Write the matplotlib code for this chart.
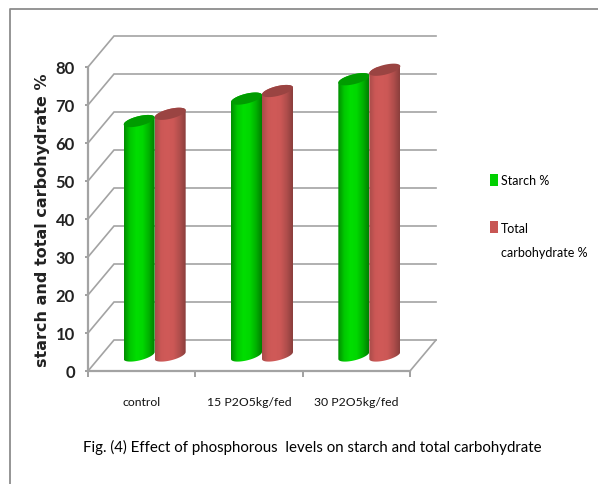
import numpy as np
import matplotlib
matplotlib.use("Agg")
import matplotlib.pyplot as plt
from matplotlib.patches import Polygon, Rectangle
from matplotlib.colors import LinearSegmentedColormap

categories = ["control", "15 P2O5kg/fed", "30 P2O5kg/fed"]
starch = [61.7, 67.6, 72.7]
total_carb = [63.6, 69.6, 75.2]
y_ticks = [0, 10, 20, 30, 40, 50, 60, 70, 80]
series_names = ["Starch %", "Total\ncarbohydrate %"]
y_title = "starch and total carbohydrate %"
caption = "Fig. (4) Effect of phosphorous  levels on starch and total carbohydrate"

W, H = 598, 485
narrow = "Lato"

fig = plt.figure(figsize=(W / 100, H / 100), dpi=100, facecolor="white")
ax = fig.add_axes([88 / W, (H - 372) / H, (410 - 88) / W, (372 - 68) / H])
ax.set_xlim(0, 3)
ax.set_ylim(0, 80)
ax.patch.set_alpha(0)

px_x = 3 / (410 - 88)
px_y = 80 / (372 - 68)
dx, dy = 26 * px_x, 31 * px_y
GRID = "#a3a3a3"

# frame around the picture
fig.add_artist(plt.Line2D([10 / W, 10 / W, 1], [0, 1 - 10 / H, 1 - 10 / H],
                          color="#8c8c8c", lw=1.3))

# 3-D walls
for v in y_ticks:
    ax.plot([0, dx, 3 + dx], [v, v + dy, v + dy], color=GRID, lw=1.2, clip_on=False, zorder=1,
            solid_joinstyle="miter")
ax.plot([3, 3 + dx], [0, dy], color=GRID, lw=1.2, clip_on=False, zorder=1)

cm_green = LinearSegmentedColormap.from_list("g", ["#008c00", "#00c800", "#00de00", "#00d800", "#00b400", "#008000"])
cm_red = LinearSegmentedColormap.from_list("r", ["#a84c4a", "#cc5856", "#d05a58", "#cc5856", "#b04e4c", "#8a3e3c"])
half_w = 15.5 * px_x
tilt = 3.5 * px_y
minor = 5 * px_y
grad = np.linspace(0, 1, 128).reshape(1, -1)


def ell(cx, v, t):
    return np.column_stack([cx + half_w * np.cos(t), v + tilt * np.cos(t) + minor * np.sin(t)])


def cylinder(cx, val, cmap, top_color, z):
    base = dy / 2
    top = val + base
    lower = ell(cx, base, np.linspace(np.pi, 2 * np.pi, 40))
    upper = ell(cx, top, np.linspace(0, np.pi, 40))
    body = Polygon(np.vstack([lower, upper]), closed=True, facecolor="none", edgecolor="none",
                   transform=ax.transData)
    ax.add_patch(body)
    im = ax.imshow(grad, cmap=cmap, extent=[cx - half_w, cx + half_w, base - 3, top + 3],
                   aspect="auto", zorder=z, interpolation="bilinear")
    im.set_clip_path(body)
    cap = Polygon(ell(cx, top, np.linspace(0, 2 * np.pi, 60)), closed=True, facecolor=top_color,
                  edgecolor="none", zorder=z + 0.1, clip_on=False)
    ax.add_patch(cap)


for i in range(len(categories)):
    c = i + 0.5 + dx / 2
    cylinder(c - half_w, starch[i], cm_green, "#009c00", 3)
    cylinder(c + half_w, total_carb[i], cm_red, "#9a4442", 4)
ax.set_xlim(0, 3)
ax.set_ylim(0, 80)

# axes
for s in ("top", "right"):
    ax.spines[s].set_visible(False)
for s in ("left", "bottom"):
    ax.spines[s].set_color(GRID)
    ax.spines[s].set_linewidth(1.6)
ax.set_yticks(y_ticks)
ax.set_yticklabels([str(v) for v in y_ticks], fontfamily=narrow, fontweight="bold", fontsize=12)
ax.tick_params(axis="y", length=2.5, width=1.2, color="#909090", pad=7, labelcolor="#222222")
ax.set_xticks([0, 1, 2, 3])
ax.set_xticklabels([])
ax.set_xticks(np.arange(len(categories)) + 0.5, minor=True)
ax.set_xticklabels(categories, minor=True, fontfamily=narrow, fontsize=8.8, color="#111111")
ax.tick_params(axis="x", which="major", length=4, width=1.2, color="#909090")
ax.tick_params(axis="x", which="minor", length=0, pad=18)

fig.text(43 / W, 1 - 220 / H, y_title, rotation=90, ha="center", va="center",
         fontsize=11.5, fontweight="bold", fontfamily="DejaVu Sans", color="#222222")
fig.text(312 / W, 1 - 447 / H, caption, ha="center", va="center", fontfamily=narrow,
         fontsize=10.8, color="#000000")

# legend
colors = ["#00d000", "#c85654"]
fig.add_artist(Rectangle((490 / W, 1 - 187 / H), 7.5 / W, 12 / H, transform=fig.transFigure,
                         facecolor=colors[0], edgecolor="none"))
fig.add_artist(Rectangle((490 / W, 1 - 234 / H), 7.5 / W, 12 / H, transform=fig.transFigure,
                         facecolor=colors[1], edgecolor="none"))
fig.text(501 / W, 1 - 181 / H, series_names[0], ha="left", va="center", fontfamily=narrow,
         fontsize=9, color="#000000")
fig.text(501 / W, 1 - 241 / H, series_names[1], ha="left", va="center", fontfamily=narrow,
         fontsize=9, color="#000000", linespacing=2.15)

fig.savefig("out.png", dpi=100)
